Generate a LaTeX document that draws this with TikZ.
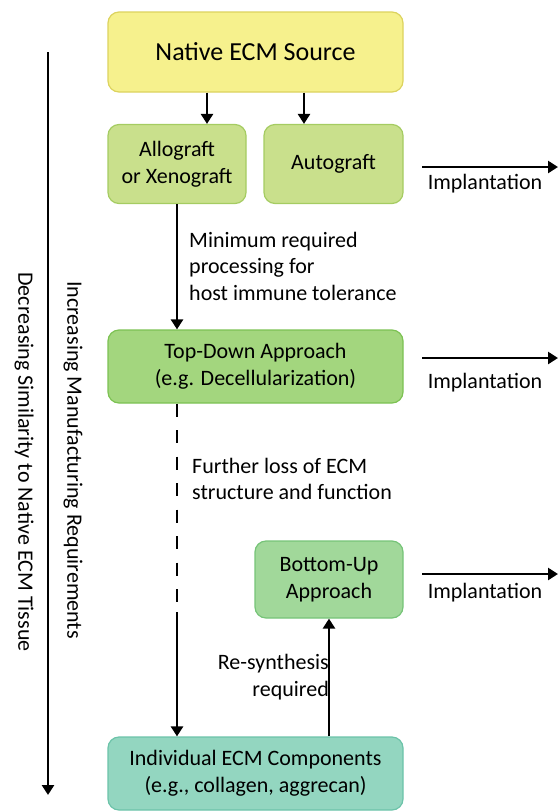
\documentclass[tikz,border=0pt]{standalone}
\usepackage{fontspec}
\setmainfont{Carlito}
\usetikzlibrary{arrows.meta}

\definecolor{srcfill}{HTML}{F6F18D}
\definecolor{srcline}{HTML}{DCD35E}
\definecolor{graftfill}{HTML}{C9E08C}
\definecolor{graftline}{HTML}{A5CC62}
\definecolor{topfill}{HTML}{A3D67E}
\definecolor{topline}{HTML}{7CC253}
\definecolor{botfill}{HTML}{A1D89A}
\definecolor{botline}{HTML}{76C478}
\definecolor{indfill}{HTML}{93D6C0}
\definecolor{indline}{HTML}{6CC3A9}

\begin{document}
\begin{tikzpicture}[x=1pt, y=-1pt,
  box/.style={draw, rounded corners=11pt, line width=1.2pt, align=center, inner sep=0pt,
    font=\fontsize{22}{27}\selectfont},
  note/.style={inner sep=0pt, font=\fontsize{22}{26.5}\selectfont},
  arr/.style={-{Triangle[length=10pt,width=12pt]}, line width=2.8pt}]
  \useasboundingbox (0,0) rectangle (560,812);

  % boxes
  \node[box, fill=srcfill, draw=srcline, minimum width=295pt, minimum height=80pt,
    font=\fontsize{26}{30}\selectfont] (src) at (255.5,52) {Native ECM Source};
  \node[box, fill=graftfill, draw=graftline, minimum width=138pt, minimum height=79pt]
    (allo) at (177,164) {Allograft\\or Xenograft};
  \node[box, fill=graftfill, draw=graftline, minimum width=139pt, minimum height=79pt]
    (auto) at (333.5,164) {Autograft};
  \node[box, fill=topfill, draw=topline, minimum width=295pt, minimum height=73pt]
    (top) at (255.5,366.5) {Top-Down Approach\\(e.g. Decellularization)};
  \node[box, fill=botfill, draw=botline, minimum width=148pt, minimum height=77pt]
    (bot) at (329,579.5) {Bottom-Up\\Approach};
  \node[box, fill=indfill, draw=indline, minimum width=295pt, minimum height=73pt]
    (ind) at (255.5,773.5) {Individual ECM Components\\(e.g., collagen, aggrecan)};

  % source to grafts
  \draw[arr] ([xshift=30pt]allo.north |- src.south) -- ([xshift=30pt]allo.north);
  \draw[arr] ([xshift=-29.5pt]auto.north |- src.south) -- ([xshift=-29.5pt]auto.north);

  % processing steps
  \draw[arr] (allo.south) -- (allo.south |- top.north);
  \node[note, anchor=west, align=left] (minproc) at (189,266)
    {Minimum required\\processing for\\host immune tolerance};

  \coordinate (brk) at (177,612);
  \draw[line width=2.8pt, dash pattern=on 13pt off 13.5pt] (allo.south |- top.south) -- (brk);
  \draw[arr] (brk) -- (brk |- ind.north);
  \node[note, anchor=west, align=left] (loss) at (192,479)
    {Further loss of ECM\\structure and function};

  \draw[arr] (bot.south |- ind.north) -- (bot.south);
  \node[note, anchor=east, align=right] (resyn) at (329,677)
    {Re-synthesis\\required};

  % implantation
  \foreach \n/\y/\ly in {1/167/184, 2/358/383, 3/574/593} {
    \coordinate (imp\n a) at (422,\y);
    \coordinate (imp\n b) at (558,\y);
    \draw[arr] (imp\n a) -- (imp\n b);
    \node[note] (impl\n) at (485,\ly) {Implantation};
  }

  % side axis
  \coordinate (axtop) at (48,52);
  \coordinate (axbot) at (48,795);
  \draw[arr] (axtop) -- (axbot);
  \node[note, rotate=-90] (simil) at (24,462) {Decreasing Similarity to Native ECM Tissue};
  \node[note, rotate=-90] (manuf) at (73,460) {Increasing Manufacturing Requirements};
\end{tikzpicture}
\end{document}
